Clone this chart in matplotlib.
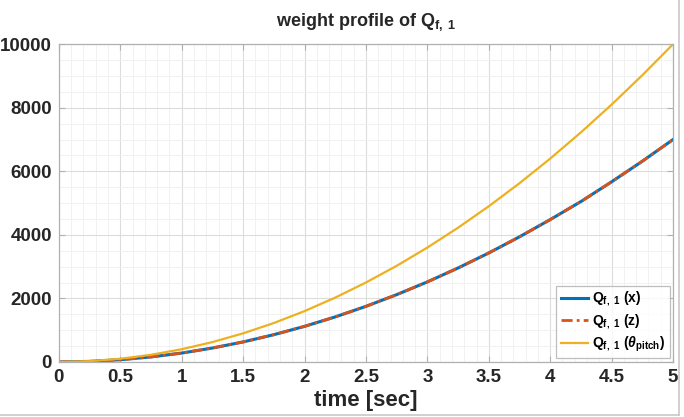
import matplotlib.pyplot as plt
from matplotlib.ticker import MultipleLocator
from matplotlib.lines import Line2D

plt.rcParams['font.family'] = ['Liberation Sans', 'DejaVu Sans']
plt.rcParams['font.weight'] = 'bold'
plt.rcParams['mathtext.fontset'] = 'custom'
plt.rcParams['mathtext.rm'] = 'Liberation Sans:bold'
plt.rcParams['mathtext.it'] = 'Liberation Sans:italic:bold'
plt.rcParams['mathtext.bf'] = 'Liberation Sans:bold'

# time samples [sec]
time = [0, 0.25, 0.5, 0.75, 1, 1.25, 1.5, 1.75, 2, 2.25, 2.5,
        2.75, 3, 3.25, 3.5, 3.75, 4, 4.25, 4.5, 4.75, 5]
# weight profiles
q_x = [0, 18, 70, 158, 280, 438, 630, 858, 1120, 1418, 1750,
       2118, 2520, 2958, 3430, 3938, 4480, 5048, 5670, 6318, 7000]
q_z = [0, 18, 70, 158, 280, 438, 630, 858, 1120, 1418, 1750,
       2118, 2520, 2958, 3430, 3938, 4480, 5048, 5670, 6318, 7000]
q_pitch = [0, 25, 100, 225, 400, 625, 900, 1225, 1600, 2025, 2500,
           3025, 3600, 4225, 4900, 5625, 6400, 7225, 8100, 9025, 10000]

x_ticks = [0, 0.5, 1, 1.5, 2, 2.5, 3, 3.5, 4, 4.5, 5]
x_labels = ['0', '0.5', '1', '1.5', '2', '2.5', '3', '3.5', '4', '4.5', '5']
y_ticks = [0, 2000, 4000, 6000, 8000, 10000]
y_labels = ['0', '2000', '4000', '6000', '8000', '10000']

fig = plt.figure(figsize=(6.84, 4.17), dpi=100)
ax = fig.add_axes([0.086, 0.132, 0.898, 0.762])

ax.plot(time, q_x, color='#0072BD', lw=2.2, label=r'Q$_{\mathrm{f,\ 1}}$ (x)')
ax.plot(time, q_z, color='#D95319', lw=2.0, ls=(0, (4, 1.5, 1, 1.5)),
        label=r'Q$_{\mathrm{f,\ 1}}$ (z)')
ax.plot(time, q_pitch, color='#EDB120', lw=1.6,
        label=r'Q$_{\mathrm{f,\ 1}}$ ($\theta_{\mathrm{pitch}}$)')

ax.set_xticks(x_ticks, x_labels)
ax.set_yticks(y_ticks, y_labels)
ax.xaxis.set_minor_locator(MultipleLocator(0.1))
ax.yaxis.set_minor_locator(MultipleLocator(500))
ax.set_xlim(0, 5)
ax.set_ylim(0, 10000)
ax.grid(True, which='major', color='#dcdcdc', lw=0.8)
ax.grid(True, which='minor', color='#efefef', lw=0.6)
ax.set_axisbelow(True)

for s in ax.spines.values():
    s.set_color('#b0b0b0')
    s.set_linewidth(0.9)
ax.tick_params(which='both', direction='in', colors='#b0b0b0',
               labelcolor='#262626', top=True, right=True)
ax.tick_params(which='major', length=4, labelsize=13.5, pad=5)
ax.tick_params(which='minor', length=0)

ax.set_xlabel('time [sec]', fontsize=16, fontweight='bold', color='#262626', labelpad=3)
ax.set_title(r'weight profile of Q$_{\mathrm{f,\ 1}}$', fontsize=13,
             fontweight='bold', color='#262626', pad=13)

leg = ax.legend(loc='lower right', fontsize=10, frameon=True, fancybox=False,
                handlelength=2.0, handletextpad=0.3, borderpad=0.3,
                labelspacing=0.3, borderaxespad=0.25)
leg.get_frame().set_edgecolor('#b0b0b0')
leg.get_frame().set_linewidth(0.9)

# light frame lines at right and bottom of the image
fig.add_artist(Line2D([0.993, 0.993], [0.005, 1], color='#c8c8c8', lw=1.2))
fig.add_artist(Line2D([0, 0.993], [0.005, 0.005], color='#c8c8c8', lw=1.2))

plt.savefig('out.png', dpi=100)
